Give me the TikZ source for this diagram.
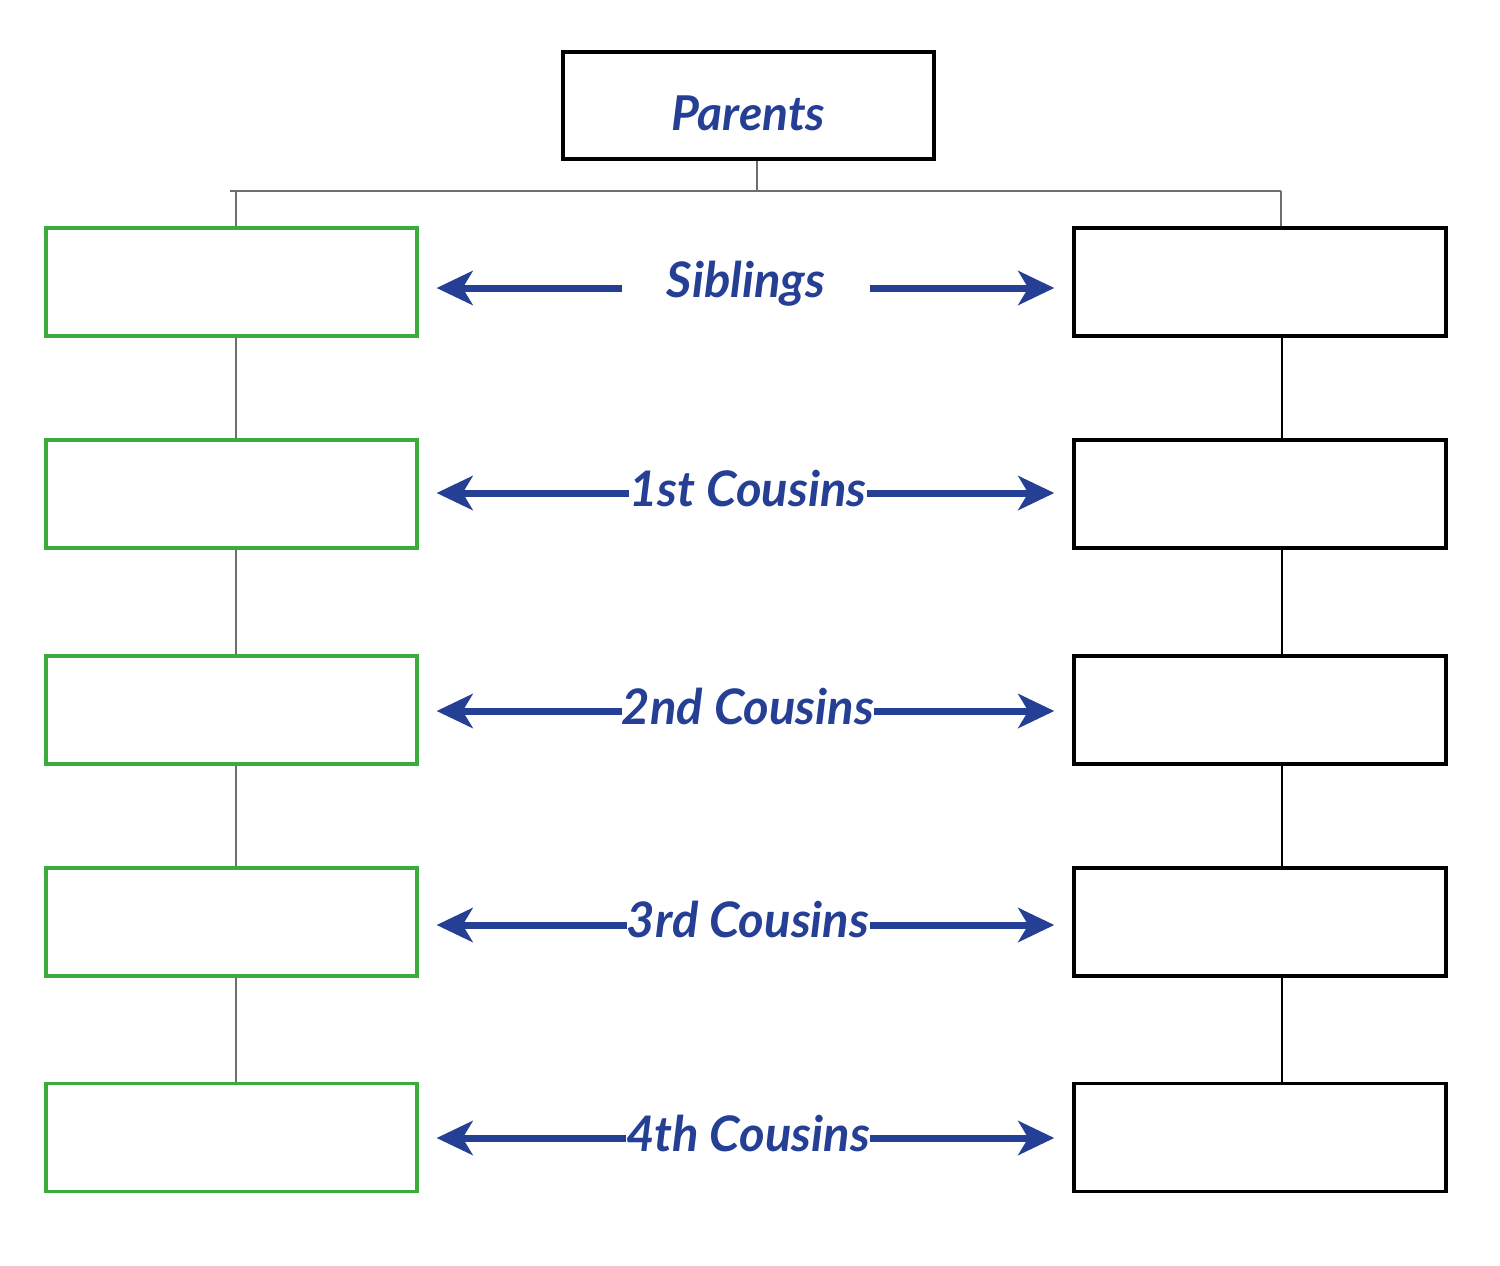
\documentclass[tikz,border=0pt]{standalone}
\usepackage{fontspec}
\setmainfont{Lato}
\usetikzlibrary{arrows.meta}
\definecolor{lblue}{HTML}{243F94}
\definecolor{bgreen}{HTML}{3DAA3D}
\definecolor{cgray}{HTML}{6E6E6E}
\tikzset{
  gbox/.style={draw=bgreen, line width=1.6pt, minimum width=185.5pt, minimum height=54pt, inner sep=0pt},
  kbox/.style={draw=black, line width=1.7pt, minimum width=186pt, minimum height=54pt, inner sep=0pt},
  pbox/.style={draw=black, line width=1.8pt, minimum width=185.5pt, minimum height=53.5pt, inner sep=0pt,
     text height=25pt, text depth=0pt,
     font=\fontsize{24}{28}\selectfont\bfseries\itshape, text=lblue},
  lab/.style={font=\fontsize{24.5}{28}\selectfont\bfseries\itshape, text=lblue, inner sep=0pt},
  arr/.style={draw=lblue, line width=3.5pt, -{Stealth[length=18pt, width=17pt, inset=5pt]}, shorten >=9pt},
  gconn/.style={draw=cgray, line width=1pt},
  kconn/.style={draw=black, line width=1pt},
}
\begin{document}
\begin{tikzpicture}[x=0.5pt, y=-0.5pt]
\useasboundingbox (0,0) rectangle (1500,1265);
\node[pbox] (P) at (748.5,105.5) {Parents};
\foreach \i/\y in {1/282, 2/494, 3/710, 4/922, 5/1137.5}{
  \node[gbox] (L\i) at (231.5,\y) {};
  \node[kbox] (R\i) at (1260,\y) {};
}
\coordinate (xl) at (236,0);
\coordinate (xr) at (1282,0);
\coordinate (jt) at (757,191);
\coordinate (hl) at (230,191);
\coordinate (hr) at (1281,191);
\draw[gconn] (P.south -| jt) -- (jt);
\draw[gconn] (hl) -- (hr);
\draw[gconn] (hl -| xl) -- (L1.north -| xl);
\draw[gconn] (hr) -- (R1.north -| hr);
\foreach \a/\b in {1/2, 2/3, 3/4, 4/5}{
  \draw[gconn] (L\a.south -| xl) -- (L\b.north -| xl);
  \draw[kconn] (R\a.south -| xr) -- (R\b.north -| xr);
}
\node[lab, inner xsep=22pt] (S1) at (746,284) {Siblings};
\node[lab] (S2) at (748,489) {1st Cousins};
\node[lab] (S3) at (748,706) {2nd Cousins};
\node[lab] (S4) at (748,919) {3rd Cousins};
\node[lab] (S5) at (748,1133) {4th Cousins};
\foreach \i/\y in {1/288, 2/493, 3/711, 4/925, 5/1138}{
  \coordinate (ya\i) at (0,\y);
  \draw[arr] (S\i.west |- ya\i) -- (L\i.east |- ya\i);
  \draw[arr] (S\i.east |- ya\i) -- (R\i.west |- ya\i);
}
\end{tikzpicture}
\end{document}
